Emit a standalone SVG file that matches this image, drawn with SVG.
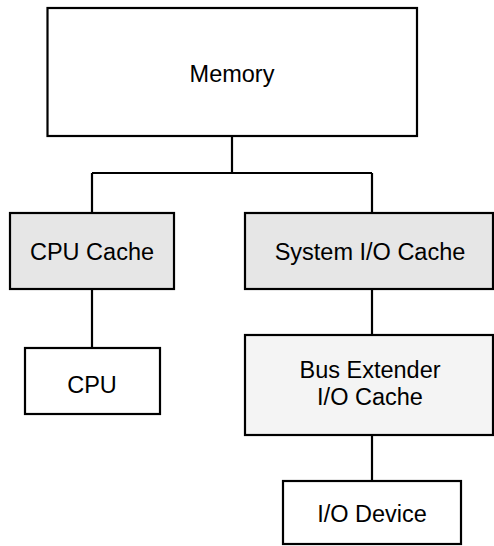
<svg xmlns="http://www.w3.org/2000/svg" width="494" height="546" viewBox="0 0 494 546">
<style>
.b{stroke:#000;stroke-width:2.2}
.t{font-family:"Liberation Sans",Arial,sans-serif;font-size:23.5px;fill:#000;text-anchor:middle}
.c{fill:none;stroke:#000;stroke-width:2.2}
</style>
<rect width="494" height="546" fill="#fff"/>
<g id="connectors">
<path class="c" d="M232 136V173M92 173H372M92 173V213M372 173V213"/>
<path class="c" d="M92 289V348"/>
<path class="c" d="M372 289V335"/>
<path class="c" d="M372 435V481"/>
</g>
<g id="memory"><rect class="b" x="47.5" y="8" width="369.5" height="128" fill="#fff"/><text class="t" x="232" y="82">Memory</text></g>
<g id="cpu-cache"><rect class="b" x="10" y="213" width="164" height="76" fill="#e6e6e6"/><text class="t" x="92" y="259.5">CPU Cache</text></g>
<g id="system-io-cache"><rect class="b" x="245" y="213" width="248" height="76" fill="#e6e6e6"/><text class="t" x="370" y="259.5">System I/O Cache</text></g>
<g id="cpu"><rect class="b" x="25" y="348" width="135" height="66" fill="#fff"/><text class="t" x="92" y="393">CPU</text></g>
<g id="bus-extender"><rect class="b" x="245" y="335" width="248" height="100" fill="#f4f4f4"/><text class="t" x="370" y="377.5">Bus Extender</text><text class="t" x="370" y="404.5">I/O Cache</text></g>
<g id="io-device"><rect class="b" x="283" y="481" width="178" height="63" fill="#fff"/><text class="t" x="372" y="522">I/O Device</text></g>
</svg>
